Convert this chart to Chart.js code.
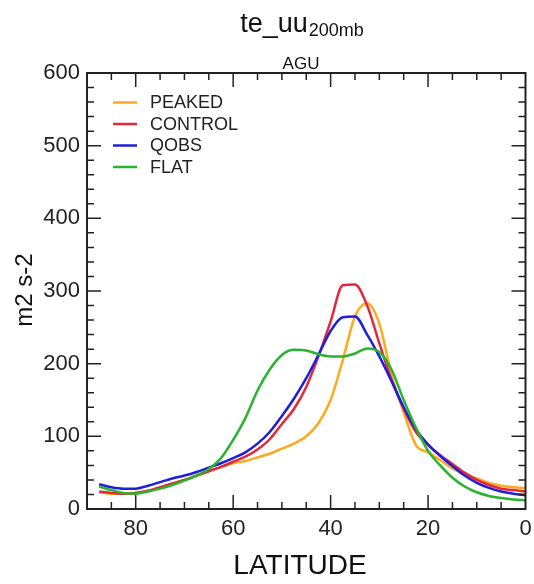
<!DOCTYPE html>
<html>
<head>
<meta charset="utf-8">
<script src="https://cdn.jsdelivr.net/npm/chart.js@4.4.1/dist/chart.umd.min.js"></script>
<style>
  html, body { margin: 0; padding: 0; background: #fff; }
  canvas { display: block; }
</style>
</head>
<body>
<canvas id="c" width="534" height="584"></canvas>
<script>
// ---- data ----
const latitudes = [87.5,85,82.5,80,77.5,75,72.5,70,67.5,65,62.5,60,57.5,55,52.5,50,47.5,45,42.5,40,37.5,35,32.5,30,27.5,25,22.5,20,17.5,15,12.5,10,7.5,5,2.5,0];
const peaked  = [23,21,21,22,25,29,35,40,46,52,58,63,66,71,76,83,90,100,118,150,205,265,283,255,185,133,88,78,67,56,48,42,36,32,30,29];
const control = [24,22,21,22,25,30,35,40,46,52,58,65,72,82,96,117,138,168,210,258,308,309,280,228,178,138,106,88,74,62,50,40,33,28,26,24];
const qobs    = [34,30,28,28,32,37,42,46,51,57,63,70,78,90,106,128,152,180,212,245,264,265,240,210,176,140,110,89,73,59,46,36,29,24,21,19];
const flat    = [31,26,22,21,24,28,33,39,46,55,70,95,125,163,192,212,219,218,213,210,210,214,221,216,192,150,112,80,60,43,31,23,18,15,13,12];
const seriesNames  = ['PEAKED','CONTROL','QOBS','FLAT'];
const seriesValues = [peaked, control, qobs, flat];
const seriesColors = ['#FFA91E','#E3283C','#1E1EDC','#28B42D'];
const xTickValues = [0,20,40,60,80];
const yTickValues = [0,100,200,300,400,500,600];
const titleMain = 'te_uu';
const titleSub = '200mb';
const subtitle = 'AGU';
const xTitle = 'LATITUDE';
const yTitle = 'm2 s-2';

const FONT = '"Liberation Sans", Arial, Helvetica, sans-serif';

const datasets = seriesNames.map((name, i) => ({
  label: name,
  data: latitudes.map((lat, k) => ({ x: lat, y: seriesValues[i][k] })),
  borderColor: seriesColors[i],
  backgroundColor: seriesColors[i],
  borderWidth: 2.5,
  pointRadius: 0,
  fill: false,
  order: seriesNames.length - i
}));

const decor = {
  id: 'decor',
  afterDraw(chart) {
    const { ctx, chartArea: a, scales: { x, y } } = chart;
    ctx.save();
    ctx.strokeStyle = '#222';
    ctx.lineWidth = 1.5;
    ctx.beginPath();
    for (let v = 5; v < 90; v += 5) {
      const px = x.getPixelForValue(v);
      const len = (v % 20 === 0) ? 14 : 7;
      ctx.moveTo(px, a.bottom); ctx.lineTo(px, a.bottom - len);
      ctx.moveTo(px, a.top); ctx.lineTo(px, a.top + len);
    }
    for (let v = 20; v < 600; v += 20) {
      const py = y.getPixelForValue(v);
      const len = (v % 100 === 0) ? 14 : 7;
      ctx.moveTo(a.left, py); ctx.lineTo(a.left + len, py);
      ctx.moveTo(a.right, py); ctx.lineTo(a.right - len, py);
    }
    ctx.stroke();
    ctx.lineWidth = 2;
    ctx.strokeRect(a.left, a.top, a.right - a.left, a.bottom - a.top);

    // titles
    ctx.fillStyle = '#111';
    ctx.textBaseline = 'alphabetic';
    ctx.textAlign = 'left';
    ctx.font = '27px ' + FONT;
    const wMain = ctx.measureText(titleMain).width;
    ctx.font = '18px ' + FONT;
    const wSub = ctx.measureText(titleSub).width;
    const start = 302 - (wMain + wSub + 1) / 2;
    ctx.font = '27px ' + FONT;
    ctx.fillText(titleMain, start, 32);
    ctx.font = '18px ' + FONT;
    ctx.fillText(titleSub, start + wMain + 1, 36);

    ctx.textAlign = 'center';
    ctx.font = '17px ' + FONT;
    ctx.fillText(subtitle, 301, 69);

    ctx.font = '28px ' + FONT;
    ctx.fillText(xTitle, 300, 574);

    ctx.save();
    ctx.translate(25, 290);
    ctx.rotate(-Math.PI / 2);
    ctx.font = '24px ' + FONT;
    ctx.textBaseline = 'middle';
    ctx.fillText(yTitle, 0, 0);
    ctx.restore();

    // legend
    ctx.textAlign = 'left';
    ctx.textBaseline = 'middle';
    ctx.font = '18px ' + FONT;
    chart.data.datasets.forEach((ds, i) => {
      const ly = 102.5 + i * 21.5;
      ctx.strokeStyle = ds.borderColor;
      ctx.lineWidth = 2.5;
      ctx.beginPath();
      ctx.moveTo(113, ly); ctx.lineTo(137, ly);
      ctx.stroke();
      ctx.fillStyle = '#222';
      ctx.fillText(ds.label, 150, ly + 1);
    });
    ctx.restore();
  }
};

new Chart(document.getElementById('c'), {
  type: 'line',
  data: { datasets },
  options: {
    responsive: false,
    animation: false,
    devicePixelRatio: 1,
    layout: { padding: { top: 73, right: 8.5, left: 0, bottom: 0 } },
    plugins: { legend: { display: false }, tooltip: { enabled: false }, title: { display: false } },
    elements: { line: { cubicInterpolationMode: 'monotone' }, point: { radius: 0 } },
    scales: {
      x: {
        type: 'linear', min: 0, max: 90, reverse: true,
        grid: { display: false, drawTicks: false },
        border: { display: false },
        afterBuildTicks: s => { s.ticks = xTickValues.map(v => ({ value: v })); },
        ticks: { font: { family: FONT, size: 22 }, color: '#222', padding: 7, maxRotation: 0, autoSkip: false },
        afterFit: s => { s.height = 75; }
      },
      y: {
        type: 'linear', min: 0, max: 600,
        grid: { display: false, drawTicks: false },
        border: { display: false },
        afterBuildTicks: s => { s.ticks = yTickValues.map(v => ({ value: v })); },
        ticks: { font: { family: FONT, size: 22 }, color: '#222', padding: 7 },
        afterFit: s => { s.width = 87; }
      }
    }
  },
  plugins: [decor]
});
</script>
</body>
</html>
